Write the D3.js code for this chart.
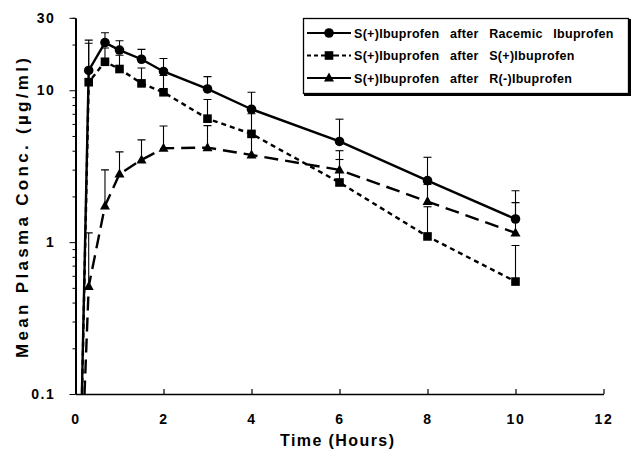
<!DOCTYPE html>
<html>
<head>
<meta charset="utf-8">
<script src="https://cdn.jsdelivr.net/npm/d3@7"></script>
<style>
  body { margin: 0; background: #fff; }
  svg { display: block; }
  text { font-family: "Liberation Sans", Arial, Helvetica, sans-serif; font-weight: bold; fill: #000; }
</style>
</head>
<body>
<div id="chart"></div>
<script>
// sampling times (hours); t=0 is pre-dose, below the 0.1 axis floor
var times = [0, 0.3, 0.67, 1, 1.5, 2, 3, 4, 6, 8, 10];

// S(+)ibuprofen after racemic ibuprofen
var racemicMean = [0.001, 13.5, 20.6, 18.4, 16.0, 13.3, 10.2, 7.5, 4.6, 2.54, 1.42];
var racemicUpper = [null, 21.4, 23.9, 21.2, 18.6, 16.2, 12.3, 9.7, 6.45, 3.62, 2.18];

// S(+)ibuprofen after S(+)ibuprofen
var sMean = [0.001, 11.3, 15.4, 13.8, 11.1, 9.7, 6.5, 5.16, 2.47, 1.09, 0.55];
var sUpper = [null, 20.4, 19.0, 17.0, 14.0, 12.5, 8.7, 7.0, 3.5, 1.71, 0.95];

// S(+)ibuprofen after R(-)ibuprofen
var rMean = [0.003, 0.51, 1.73, 2.81, 3.48, 4.15, 4.19, 3.75, 2.99, 1.85, 1.15];
var rUpper = [null, 1.15, 2.99, 3.93, 4.71, 5.82, 5.85, 5.0, 4.0, 2.4, 1.82];

var legendLabels = [
    'S(+)Ibuprofen  after  Racemic  Ibuprofen',
    'S(+)Ibuprofen  after  S(+)Ibuprofen',
    'S(+)Ibuprofen  after  R(-)Ibuprofen'
];
var xTicks = [0, 2, 4, 6, 8, 10, 12];
var yTickLabels = [0.1, 1, 10, 30];

var series = [
    {mean: racemicMean, upper: racemicUpper, dash: null, marker: 'circle'},
    {mean: sMean, upper: sUpper, dash: '5,4', marker: 'square'},
    {mean: rMean, upper: rUpper, dash: '14,7', marker: 'triangle'}
];

var width = 639, height = 453;
var svg = d3.select('#chart').append('svg').attr('width', width).attr('height', height);

var x = d3.scaleLinear().domain([0, 12]).range([75.5, 603.5]);
var y = d3.scaleLog().domain([0.1, 30]).range([394, 17.8]);

svg.append('clipPath').attr('id', 'plot')
    .append('rect').attr('x', x(0)).attr('y', 0).attr('width', x(12) - x(0)).attr('height', y(0.1));

// axes
var xAxis = svg.append('g')
    .attr('transform', 'translate(0,' + y(0.1) + ')')
    .call(d3.axisBottom(x).tickValues(xTicks).tickSizeInner(-5).tickSizeOuter(0).tickPadding(20));
xAxis.select('.domain').attr('stroke-width', 1.5);
xAxis.selectAll('.tick line').attr('stroke-width', 1.2);
xAxis.selectAll('text').style('font-size', '14px').attr('letter-spacing', 1.6);

var minor = [];
[0.1, 1, 10].forEach(function(d) {
    for (var i = 2; i <= 9; i++) { if (d * i <= 30) minor.push(d * i); }
});
svg.append('g')
    .attr('transform', 'translate(' + x(0) + ',0)')
    .call(d3.axisLeft(y).tickValues(minor).tickSize(3).tickFormat(''))
    .select('.domain').remove();

var yAxis = svg.append('g')
    .attr('transform', 'translate(' + x(0) + ',0)')
    .call(d3.axisLeft(y).tickValues(yTickLabels).tickSizeInner(6).tickSizeOuter(0).tickPadding(14)
        .tickFormat(function(d) { return d; }));
yAxis.select('.domain').attr('stroke-width', 2);
yAxis.selectAll('text').style('font-size', '14px').attr('letter-spacing', 1.6);

// axis titles
svg.append('text')
    .attr('x', 337).attr('y', 446)
    .attr('text-anchor', 'middle')
    .style('font-size', '16px')
    .attr('textLength', 114)
    .attr('lengthAdjust', 'spacing')
    .text('Time  (Hours)');

svg.append('text')
    .attr('transform', 'translate(28,208) rotate(-90)')
    .attr('text-anchor', 'middle')
    .style('font-size', '17px')
    .attr('textLength', 300)
    .attr('lengthAdjust', 'spacing')
    .text('Mean Plasma Conc. (\u00b5g/ml)');

// lines
var line = d3.line()
    .x(function(d) { return x(d.t); })
    .y(function(d) { return y(d.v); });

var plot = svg.append('g').attr('clip-path', 'url(#plot)');

function drawMarker(g, type, cx, cy) {
    if (type === 'circle') {
        g.append('circle').attr('cx', cx).attr('cy', cy).attr('r', 4.8);
    } else if (type === 'square') {
        g.append('rect').attr('x', cx - 4.3).attr('y', cy - 4.3).attr('width', 8.6).attr('height', 8.6);
    } else {
        g.append('path').attr('d', 'M' + cx + ',' + (cy - 5.5) + 'L' + (cx + 5) + ',' + (cy + 3.5) + 'L' + (cx - 5) + ',' + (cy + 3.5) + 'Z');
    }
}

series.forEach(function(s) {
    var pts = times.map(function(t, i) { return {t: t, v: s.mean[i], u: s.upper[i]}; });

    plot.append('path')
        .datum(pts)
        .attr('fill', 'none')
        .attr('stroke', '#000')
        .attr('stroke-width', 2.4)
        .attr('stroke-dasharray', s.dash)
        .attr('d', line);

    var shown = pts.filter(function(d) { return d.u != null; });
    var bars = plot.append('g').attr('stroke', '#000').attr('stroke-width', 1.1);
    shown.forEach(function(d) {
        bars.append('line').attr('x1', x(d.t)).attr('x2', x(d.t)).attr('y1', y(d.v)).attr('y2', y(d.u));
        bars.append('line').attr('x1', x(d.t) - 4).attr('x2', x(d.t) + 4).attr('y1', y(d.u)).attr('y2', y(d.u));
    });

    var marks = plot.append('g').attr('fill', '#000');
    shown.forEach(function(d) { drawMarker(marks, s.marker, x(d.t), y(d.v)); });
});

// legend
var lg = svg.append('g');
lg.append('rect').attr('x', 303.5).attr('y', 18.5).attr('width', 325).attr('height', 75)
    .attr('fill', 'none').attr('stroke', '#000').attr('stroke-width', 1.3);
lg.append('path').attr('d', 'M304,95L630,95L630,19')
    .attr('fill', 'none').attr('stroke', '#000').attr('stroke-width', 2);

legendLabels.forEach(function(label, i) {
    var s = series[i];
    var ly = 33 + i * 22.5;
    var dash = i === 1 ? '4,3' : null;
    [[307, 323], [335, 351]].forEach(function(seg) {
        lg.append('line').attr('x1', seg[0]).attr('x2', seg[1]).attr('y1', ly).attr('y2', ly)
            .attr('stroke', '#000').attr('stroke-width', 2).attr('stroke-dasharray', dash);
    });
    lg.append('line').attr('x1', 323).attr('x2', 335).attr('y1', ly).attr('y2', ly)
        .attr('stroke', '#000').attr('stroke-width', 2);
    var mg = lg.append('g').attr('fill', '#000');
    drawMarker(mg, s.marker, 329, ly);
    lg.append('text').attr('x', 354).attr('y', ly + 4.5)
        .style('font-size', '12.5px')
        .attr('letter-spacing', 0.3)
        .attr('word-spacing', 1.5)
        .style('white-space', 'pre')
        .text(label);
});
</script>
</body>
</html>
